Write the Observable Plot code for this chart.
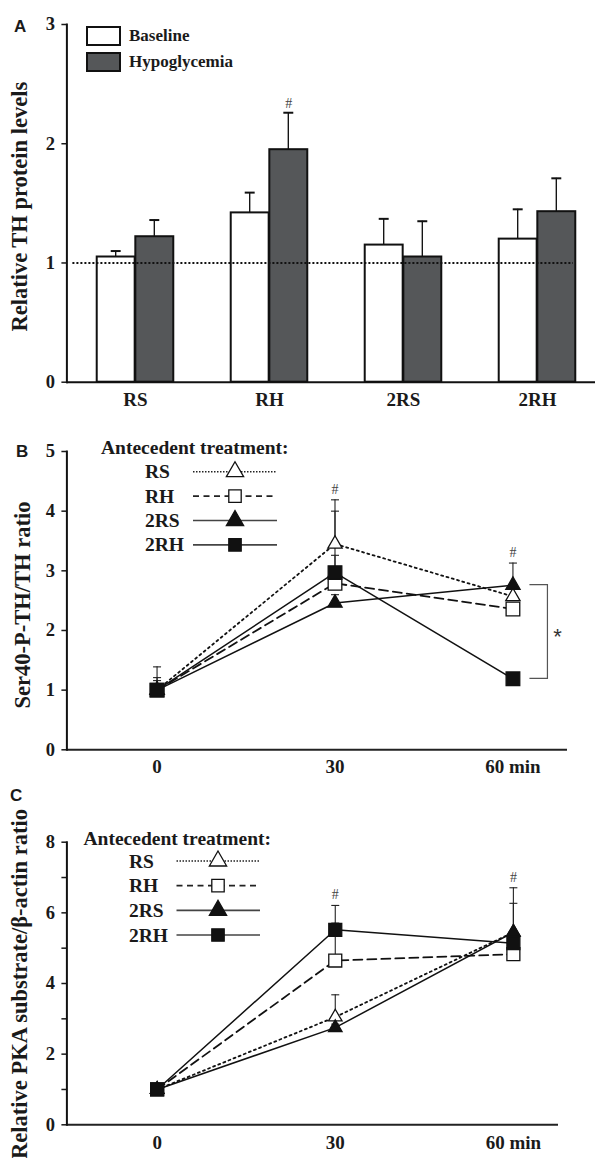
<!DOCTYPE html>
<html>
<head>
<meta charset="utf-8">
<script src="https://cdn.jsdelivr.net/npm/d3@7"></script>
<script src="https://cdn.jsdelivr.net/npm/@observablehq/plot@0.6"></script>
<style>
  html, body { margin: 0; padding: 0; background: #fff; }
  #root { position: relative; width: 595px; height: 1158px; overflow: hidden; background: #fff; }
  #root svg { position: absolute; left: 0; }
</style>
</head>
<body>
<div id="root"></div>
<script>
// ---------------- Panel A data ----------------
const groupsA = ["RS", "RH", "2RS", "2RH"];
const baselineA = [1.05, 1.42, 1.15, 1.20];
const baselineUpperA = [1.10, 1.59, 1.37, 1.45];
const hypoA = [1.22, 1.95, 1.05, 1.43];
const hypoUpperA = [1.36, 2.26, 1.35, 1.71];
const hashGroupsA = ["RH"];
const legendA = ["Baseline", "Hypoglycemia"];

// ---------------- Panels B / C data ----------------
const times = [0, 30, 60];
const treatments = ["RS", "RH", "2RS", "2RH"];

const rsB = [1.00, 3.45, 2.57];
const rhB = [1.00, 2.79, 2.36];
const twoRsB = [1.00, 2.46, 2.76];
const twoRhB = [1.00, 2.97, 1.19];
const rsUpperB = [1.21, 4.19, 2.72];
const rhUpperB = [1.16, 3.26, 2.46];
const twoRsUpperB = [1.39, 2.60, 3.13];
const twoRhUpperB = [1.10, 4.00, 1.27];
const hashTimesB = [30, 60];

const rsC = [1.00, 3.05, 5.45];
const rhC = [1.00, 4.65, 4.83];
const twoRsC = [1.00, 2.75, 5.45];
const twoRhC = [1.00, 5.52, 5.14];
const rsUpperC = [1.05, 3.68, 6.27];
const rhUpperC = [1.05, 5.71, 4.95];
const twoRsUpperC = [1.05, 2.85, 6.71];
const twoRhUpperC = [1.05, 6.21, 5.30];
const hashTimesC = [30, 60];

// ---------------- common ----------------
const W = 595;
const serif = "'Liberation Serif', 'Times New Roman', serif";
const sans = "'Liberation Sans', Arial, sans-serif";
const ink = "#1a1a1a";
const root = document.getElementById("root");
function place(svg, top) { svg.style.top = top + "px"; root.appendChild(svg); }
function addText(svg, o) {
  const t = d3.select(svg).append("text")
    .attr("transform", `translate(${o.x},${o.y})` + (o.rotate ? ` rotate(${o.rotate})` : ""))
    .attr("text-anchor", o.anchor || "start")
    .attr("font-family", o.family || serif)
    .attr("font-weight", o.weight || "bold")
    .attr("font-size", o.size)
    .attr("fill", o.fill || ink)
    .text(o.text);
  return t;
}
const capSymbol = { draw(ctx) { ctx.moveTo(-4, 0); ctx.lineTo(4, 0); } };
const intFmt = d => String(d);

const styleOf = {
  "RS":  { dash: "2,3.5", sym: "triangle", fill: "white", width: 1.8 },
  "RH":  { dash: "9,5",   sym: "square",   fill: "white", width: 1.8 },
  "2RS": { dash: null,    sym: "triangle", fill: "#111",  width: 1.5 },
  "2RH": { dash: null,    sym: "square",   fill: "#111",  width: 1.5 }
};
const symR = { triangle: 5.3, square: 7.7 };

// ---------------- Panel A ----------------
const rowsA = groupsA.map((g, i) => ({ group: g, base: baselineA[i], baseUp: baselineUpperA[i], hypo: hypoA[i], hypoUp: hypoUpperA[i] }));
const rangeA = [66.4, 605];
const bw = (rangeA[1] - rangeA[0]) / groupsA.length;
const barW = 38.6, stemW = 2, capHalf = 5.3;
const baseC = bw / 2 - barW / 2, hypoC = bw / 2 + barW / 2;

const plotA = Plot.plot({
  width: W, height: 420,
  marginTop: 24, marginBottom: 38.3, marginLeft: 66.4, marginRight: 0,
  style: { fontFamily: serif, fontWeight: "bold", fontSize: "19px", color: ink, background: "white", overflow: "visible" },
  x: { domain: groupsA, range: rangeA, padding: 0 },
  y: { domain: [0, 3] },
  marks: [
    Plot.axisY({ ticks: [0, 1, 2, 3], tickFormat: intFmt, tickSize: 5, tickPadding: 7, fontSize: 18.5, label: null, strokeWidth: 1.5 }),
    Plot.axisX({ tickSize: 0, tickPadding: 10, fontSize: 19, label: null }),
    // error stems
    Plot.barY(rowsA, { x: "group", y1: "base", y2: "baseUp", fill: "#111", insetLeft: baseC - stemW / 2, insetRight: bw - baseC - stemW / 2 }),
    Plot.barY(rowsA, { x: "group", y1: "hypo", y2: "hypoUp", fill: "#111", insetLeft: hypoC - stemW / 2, insetRight: bw - hypoC - stemW / 2 }),
    Plot.tickY(rowsA, { x: "group", y: "baseUp", stroke: "#111", strokeWidth: 2, insetLeft: baseC - capHalf, insetRight: bw - baseC - capHalf }),
    Plot.tickY(rowsA, { x: "group", y: "hypoUp", stroke: "#111", strokeWidth: 2, insetLeft: hypoC - capHalf, insetRight: bw - hypoC - capHalf }),
    // bars
    Plot.barY(rowsA, { x: "group", y: "base", fill: "white", stroke: "#111", strokeWidth: 2, insetLeft: bw / 2 - barW, insetRight: bw / 2 }),
    Plot.barY(rowsA, { x: "group", y: "hypo", fill: "#555759", stroke: "#111", strokeWidth: 2, insetLeft: bw / 2, insetRight: bw / 2 - barW }),
    Plot.ruleY([1], { stroke: "#111", strokeDasharray: "2,2", strokeWidth: 2, insetLeft: 6, insetRight: 22 }),
    Plot.ruleY([0], { stroke: "#111", strokeWidth: 2 }),
    Plot.frame({ anchor: "left", stroke: "#111", strokeWidth: 2 }),
    Plot.text(rowsA.filter(d => hashGroupsA.includes(d.group)), { x: "group", y: "hypoUp", text: () => "#", dx: barW / 2, dy: -5, lineAnchor: "bottom", fontWeight: "normal", fontSize: 14, fill: "#444" })
  ]
});
place(plotA, 0);
// legend A
{
  const g = d3.select(plotA).append("g");
  [["white", 27], ["#555759", 53]].forEach(([f, y], i) => {
    g.append("rect").attr("x", 87).attr("y", y).attr("width", 33).attr("height", 18)
      .attr("fill", f).attr("stroke", "#111").attr("stroke-width", 2);
    addText(plotA, { x: 129, y: y + 13.8, text: legendA[i], size: 17 });
  });
  addText(plotA, { x: 14, y: 31.5, text: "A", size: 17, family: sans });
  addText(plotA, { x: 27, y: 206.7, text: "Relative TH protein levels", size: 22.5, rotate: -90, anchor: "middle" });
}

// ---------------- Panels B / C helper ----------------
function timePanel(o) {
  const vals = o.vals, ups = o.ups;
  const rows = [];
  treatments.forEach((s, k) => times.forEach((t, i) => rows.push({ s, t, v: vals[k][i], up: ups[k][i] })));
  const hashRows = o.hashTimes.map(t => ({ t, y: d3.max(rows.filter(r => r.t === t), r => r.up) }));
  const marks = [
    Plot.axisY({ ticks: d3.range(o.yMax + 1), tickSize: 5, tickPadding: 7, fontSize: 18.5, label: null, strokeWidth: 1.5,
      tickFormat: d => (d % o.labelEvery === 0 ? String(d) : "") }),
    Plot.axisX({ ticks: times, tickSize: 0, tickPadding: o.xPad, fontSize: 19, label: null,
      tickFormat: d => (d === 60 ? "60 min" : String(d)) }),
    Plot.ruleY([0], { stroke: "#222", strokeWidth: 2 }),
    Plot.frame({ anchor: "left", stroke: "#111", strokeWidth: 2 })
  ];
  treatments.forEach(s => {
    const st = styleOf[s];
    marks.push(Plot.line(rows.filter(r => r.s === s), { x: "t", y: "v", stroke: "#111", strokeWidth: st.width, strokeDasharray: st.dash || undefined }));
  });
  marks.push(Plot.ruleX(rows, { x: "t", y1: "v", y2: "up", stroke: "#222", strokeWidth: 1.1 }));
  marks.push(Plot.dot(rows, { x: "t", y: "up", symbol: capSymbol, r: 4, fill: "none", stroke: "#222", strokeWidth: 1.1 }));
  treatments.forEach(s => {
    const st = styleOf[s];
    marks.push(Plot.dot(rows.filter(r => r.s === s), { x: "t", y: "v", symbol: st.sym, r: symR[st.sym] * o.mscale, fill: st.fill, stroke: "#111", strokeWidth: 1.3 }));
  });
  marks.push(Plot.text(hashRows, { x: "t", y: "y", text: () => "#", dy: -6, lineAnchor: "bottom", fontWeight: "normal", fontSize: 14, fill: "#444" }));

  const p = Plot.plot({
    width: W, height: o.height,
    marginTop: o.mt, marginBottom: o.mb, marginLeft: 66.4, marginRight: o.mr,
    style: { fontFamily: serif, fontWeight: "bold", fontSize: "19px", color: ink, background: "white", overflow: "visible" },
    x: { domain: o.xDomain },
    y: { domain: [0, o.yMax] },
    marks
  });
  place(p, o.top);

  // legend
  const g = d3.select(p).append("g");
  addText(p, { x: o.leg.titleX, y: o.leg.titleY, text: "Antecedent treatment:", size: 19.5 });
  treatments.forEach((s, i) => {
    const st = styleOf[s];
    const cy = o.leg.y0 + i * o.leg.step;
    addText(p, { x: o.leg.labelX, y: cy + 6.5, text: s, size: 19.5 });
    g.append("line").attr("x1", o.leg.x1).attr("x2", o.leg.x2).attr("y1", cy).attr("y2", cy)
      .attr("stroke", st.dash ? "#222" : "#444").attr("stroke-width", 1.6)
      .attr("stroke-dasharray", st.dash ? (s === "RS" ? "1.5,1.5" : "6,4.5") : null);
    const size = st.sym === "triangle" ? Math.PI * 6.4 * 6.4 : Math.PI * 7 * 7;
    g.append("path").attr("transform", `translate(${o.leg.xm},${cy})`)
      .attr("d", d3.symbol(st.sym === "triangle" ? d3.symbolTriangle : d3.symbolSquare, size)())
      .attr("fill", st.fill).attr("stroke", "#111").attr("stroke-width", 1.3);
  });
  addText(p, { x: o.letterX, y: o.letterY, text: o.letter, size: 17, family: sans });
  addText(p, { x: o.labelX, y: o.labelY, text: o.ylabel, size: 22.5, rotate: -90, anchor: "middle" });
  return p;
}

// ---------------- Panel B ----------------
const plotB = timePanel({
  top: 420, height: 360, mt: 31, mb: 30.7, mr: 28, xPad: 10,
  xDomain: [-15.2, 69.2], yMax: 5, labelEvery: 1, mscale: 1,
  vals: [rsB, rhB, twoRsB, twoRhB], ups: [rsUpperB, rhUpperB, twoRsUpperB, twoRhUpperB],
  hashTimes: hashTimesB,
  leg: { titleX: 101, titleY: 34, labelX: 145, y0: 51.7, step: 24.4, x1: 193, x2: 277, xm: 235 },
  letter: "B", letterX: 16, letterY: 37,
  ylabel: "Ser40-P-TH/TH ratio", labelX: 29.5, labelY: 185
});
// significance bracket between 2RS and 2RH at 60 min
{
  const x = plotB.scale("x"), y = plotB.scale("y");
  const x0 = x.apply(60) + 17, x1 = x.apply(60) + 35;
  const yTop = y.apply(twoRsB[2]), yBot = y.apply(twoRhB[2]);
  d3.select(plotB).append("path")
    .attr("d", `M${x0},${yTop}H${x1}V${yBot}H${x0}`)
    .attr("fill", "none").attr("stroke", "#555").attr("stroke-width", 1.2);
  addText(plotB, { x: x1 + 10, y: (yTop + yBot) / 2 + 13, text: "*", size: 22, family: sans, weight: "normal", anchor: "middle", fill: "#333" });
}

// ---------------- Panel C ----------------
const plotC = timePanel({
  top: 780, height: 378, mt: 61.7, mb: 33.7, mr: 37, xPad: 10.5,
  xDomain: [-15.2, 67.6], yMax: 8, labelEvery: 2, mscale: 0.95,
  vals: [rsC, rhC, twoRsC, twoRhC], ups: [rsUpperC, rhUpperC, twoRsUpperC, twoRhUpperC],
  hashTimes: hashTimesC,
  leg: { titleX: 83.5, titleY: 65, labelX: 129, y0: 81, step: 24.67, x1: 176.5, x2: 260, xm: 218 },
  letter: "C", letterX: 10, letterY: 21,
  ylabel: "Relative PKA substrate/β-actin ratio", labelX: 27, labelY: 204
});
</script>
</body>
</html>
